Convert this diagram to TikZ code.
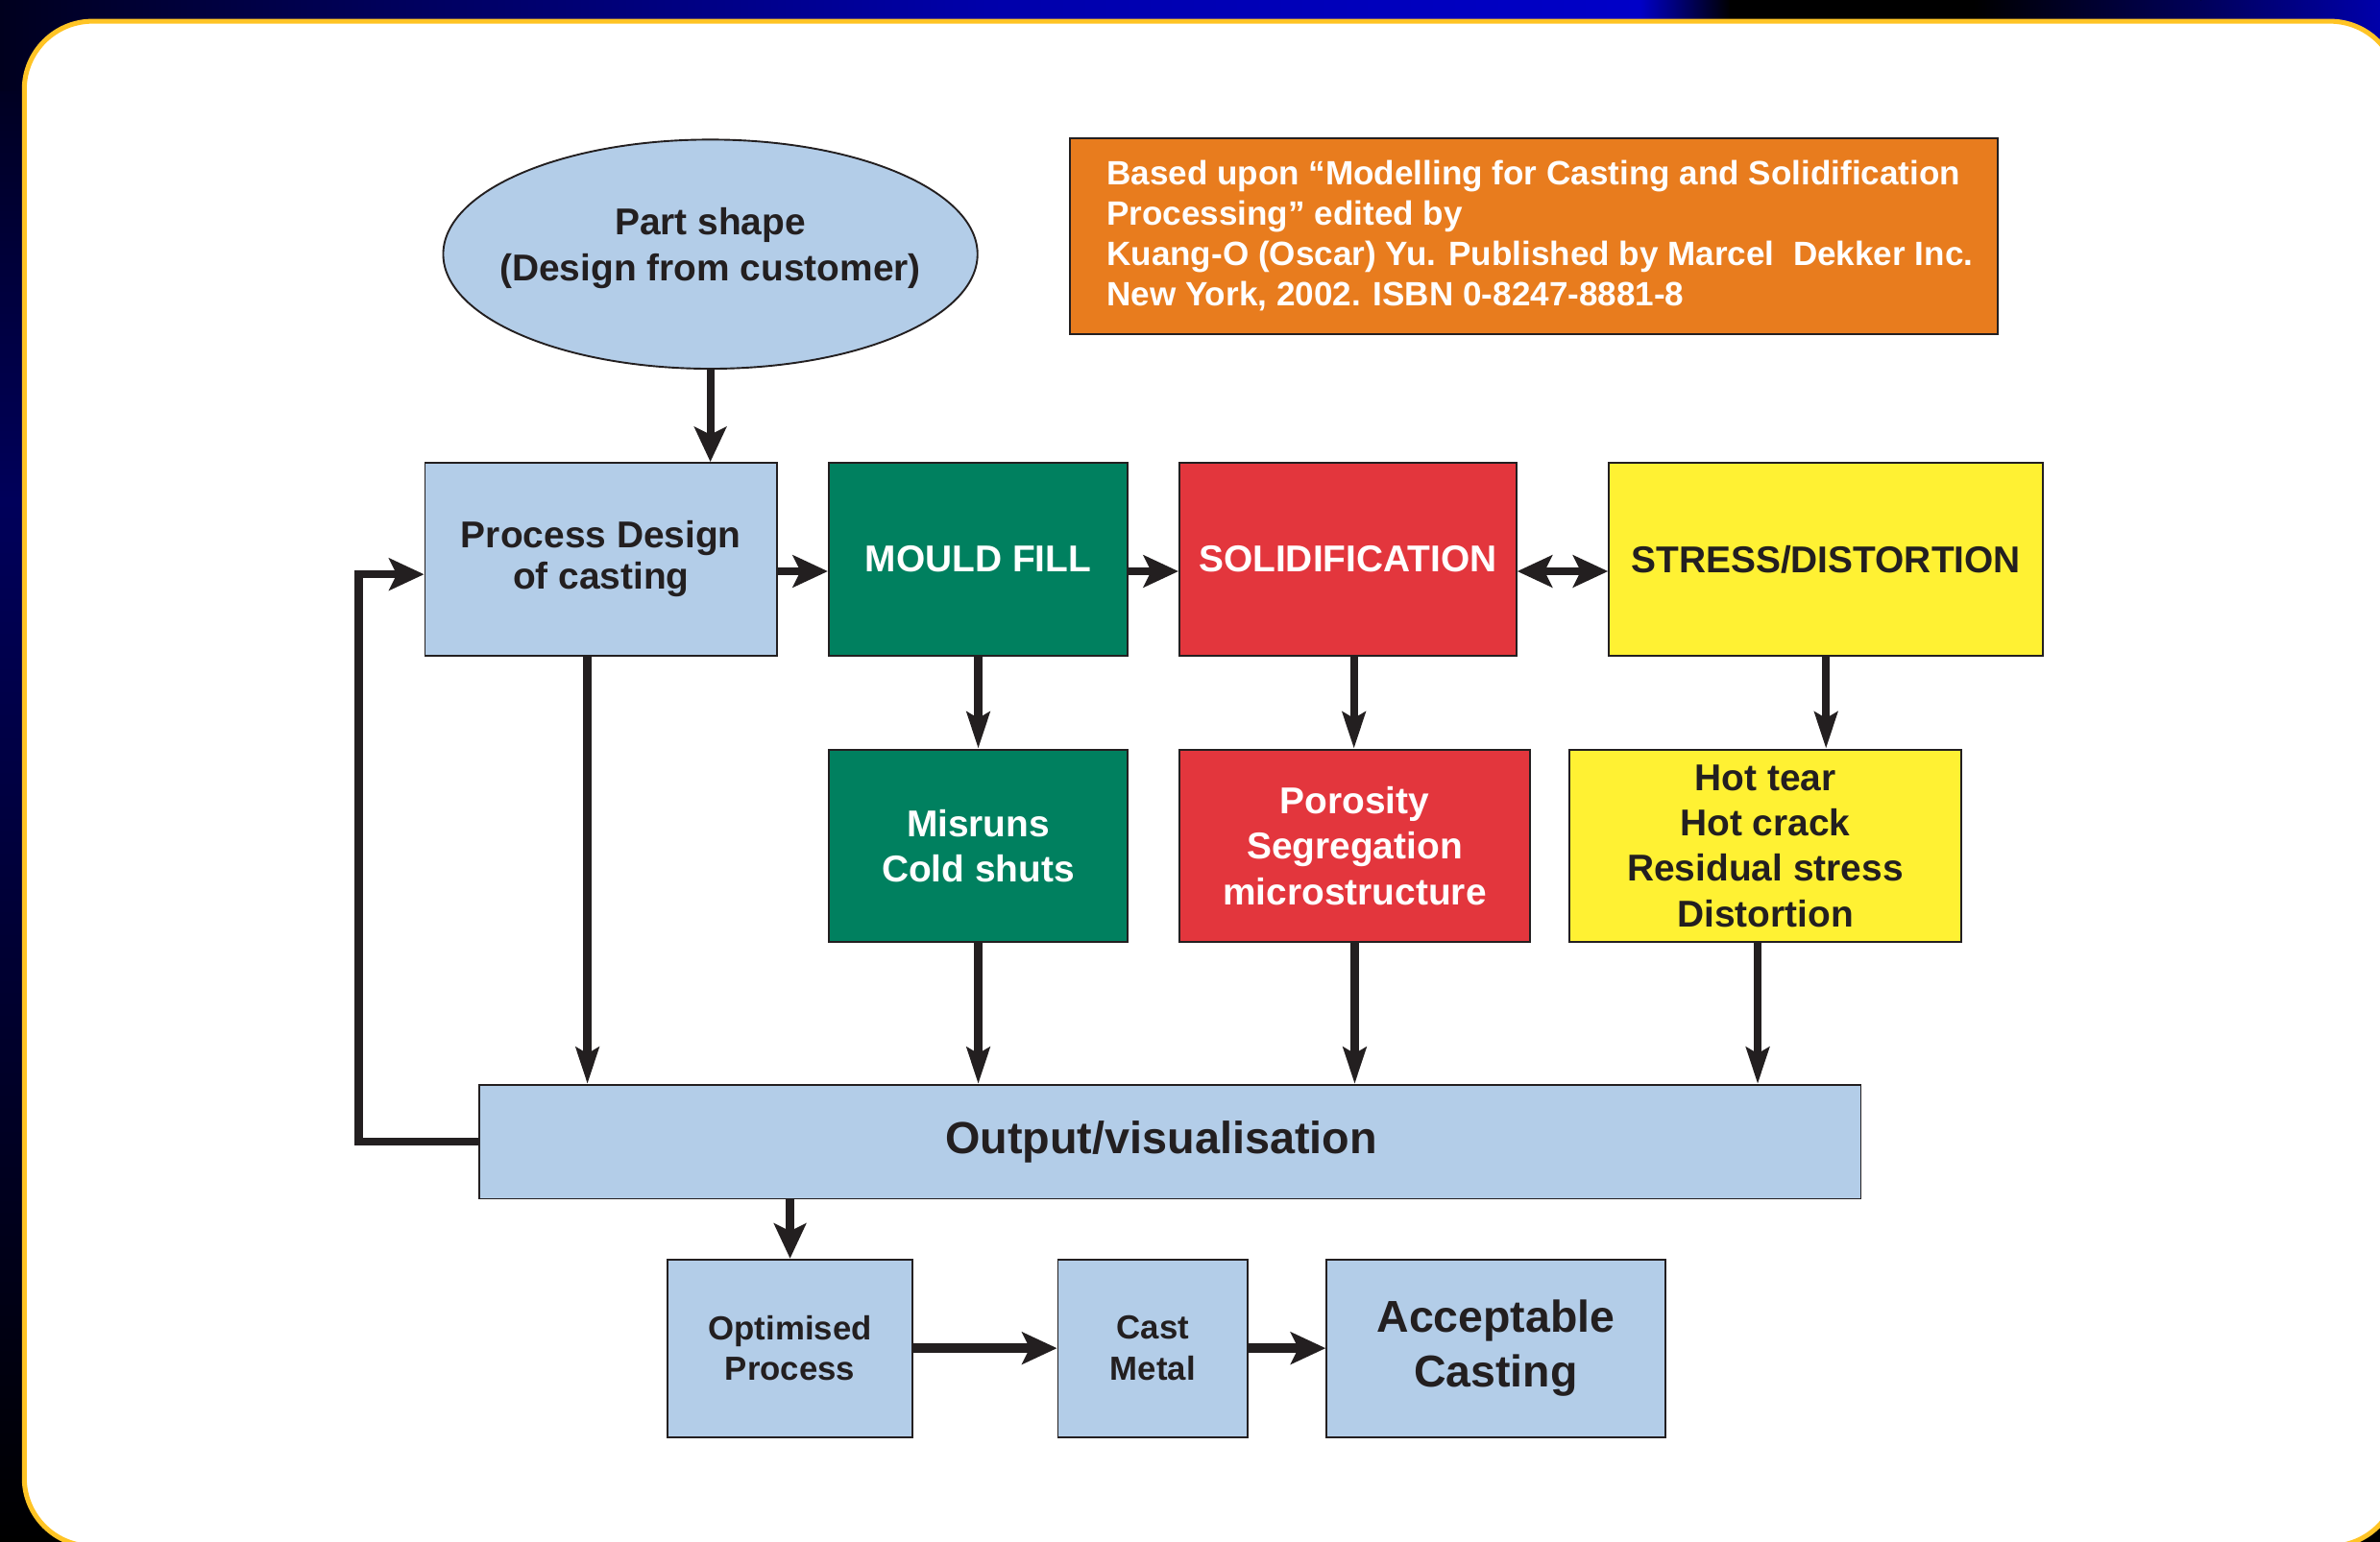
\documentclass[tikz,border=0pt]{standalone}
\usepackage{fontspec}
\setmainfont{Liberation Sans}
\usetikzlibrary{shapes,positioning,arrows.meta}
\definecolor{boxblue}{RGB}{179,205,232}
\definecolor{mouldgreen}{RGB}{0,128,95}
\definecolor{solidred}{RGB}{227,54,61}
\definecolor{stressyellow}{RGB}{255,241,51}
\definecolor{noteorange}{RGB}{232,124,30}
\definecolor{inkcolor}{RGB}{35,31,32}
\definecolor{rimcolor}{RGB}{255,196,37}
\definecolor{bgnavy}{RGB}{0,0,30}
\definecolor{bgdeep}{RGB}{0,0,90}
\definecolor{bgblue}{RGB}{0,0,170}
\definecolor{bgbright}{RGB}{0,0,200}

\begin{document}
\begin{tikzpicture}[
    x=0.5pt, y=-0.5pt,
    block/.style={rectangle, draw=inkcolor, line width=0.6pt, inner sep=0pt,
        align=center, text=inkcolor, minimum height=63.5pt,
        font=\bfseries\fontsize{12.3}{15}\selectfont},
    stage/.style={block, fill=boxblue, minimum height=58.5pt,
        font=\bfseries\fontsize{11}{13.5}\selectfont},
    flow/.style={draw=inkcolor, line width=2.6pt},
    >={Stealth[length=11.5pt,width=10.5pt,inset=2.5pt]},
    dart/.style={flow, -{Stealth[length=12pt,width=7.5pt,inset=2pt]}}
    ]

\useasboundingbox (0,0) rectangle (1568,1016);

% backdrop and panel
\fill[black] (0,0) rectangle (1568,1016);
\shade[top color=bgnavy, bottom color=bgdeep] (0,40) rectangle (30,330);
\shade[top color=bgdeep, bottom color=black] (0,330) rectangle (30,1016);
\foreach \xa/\xb/\ca/\cb in {0/250/bgnavy/bgdeep, 250/650/bgdeep/bgblue,
        650/1080/bgblue/bgbright, 1080/1140/bgbright/black, 1140/1300/black/black,
        1300/1450/black/bgdeep, 1450/1568/bgdeep/bgblue}
    \shade[left color=\ca, right color=\cb] (\xa,0) rectangle (\xb,60);
\draw[rimcolor, line width=1.6pt, fill=white, rounded corners=22.5pt] (16,14) rectangle (1580,1019);

\node[ellipse, draw=inkcolor, line width=0.6pt, fill=boxblue, inner xsep=-7.5pt, inner ysep=0pt,
    minimum width=176pt, minimum height=75.5pt, align=center, text=inkcolor,
    font=\bfseries\fontsize{12.3}{15}\selectfont] (partshape) at (468,167.5)
    {Part shape\\(Design from customer)\rule[-6.6pt]{0pt}{0pt}};

\node[rectangle, draw=inkcolor, line width=0.6pt, fill=noteorange, text=white,
    align=left, inner sep=0pt, minimum width=305.5pt, minimum height=64.5pt,
    font=\bfseries\fontsize{11.1}{13.25}\selectfont] (sourcenote) at (1010.5,155.5)
    {\hspace*{4pt}Based upon “Modelling for Casting and Solidification\\
     \hspace*{4pt}Processing” edited by\\
     \hspace*{4pt}Kuang-O (Oscar) Yu. Published by Marcel~ Dekker Inc.\\
     \hspace*{4pt}New York, 2002. ISBN 0-8247-8881-8};

\node[block, fill=boxblue, minimum width=116pt,
    font=\bfseries\fontsize{12.3}{13.5}\selectfont] (procdesign) at (396,368.5) {Process Design\\of casting};
\node[block, fill=mouldgreen, text=white, minimum width=98.5pt] (mouldfill) [right=16.4pt of procdesign] {MOULD FILL};
\node[block, fill=solidred, text=white, minimum width=111pt] (solidif) [right=16.4pt of mouldfill] {SOLIDIFICATION};
\node[block, fill=stressyellow, minimum width=143pt] (stressdist) [right=29.9pt of solidif] {STRESS/DISTORTION};

\node[block, fill=mouldgreen, text=white, minimum width=98.5pt] (misruns) [below=30.4pt of mouldfill] {Misruns\\Cold shuts};
\node[block, fill=solidred, text=white, minimum width=115.5pt] (porosity) at (892.5,557.5) {Porosity\\Segregation\\microstructure};
\node[block, fill=stressyellow, minimum width=129pt] (hottear) at (1163,557.5) {Hot tear\\Hot crack\\Residual stress\\Distortion};

\node[block, fill=boxblue, minimum width=455pt, minimum height=37.5pt,
    font=\bfseries\fontsize{14.8}{18}\selectfont] (outputvis) at (771,752.5) {Output/visualisation\hspace*{6pt}};

\node[stage, minimum width=80.5pt] (optproc) at (520.5,888.5) {Optimised\\Process};
\node[stage, minimum width=62.5pt] (castmetal) [right=47.4pt of optproc] {Cast\\Metal};
\node[stage, minimum width=111.5pt, font=\bfseries\fontsize{14.7}{18}\selectfont] (acceptcast) [right=25.4pt of castmetal] {Acceptable\\Casting};

\draw[flow,->] (partshape.south) -- (partshape.south |- procdesign.north);
\draw[flow,->] ([yshift=-4pt]procdesign.east) -- ([yshift=-4pt]mouldfill.west);
\draw[flow,->] ([yshift=-4pt]mouldfill.east) -- ([yshift=-4pt]solidif.west);
\draw[flow,<->] ([yshift=-4pt]solidif.east) -- ([yshift=-4pt]stressdist.west);
\draw[dart] (mouldfill.south) -- (misruns.north);
\draw[dart] ([xshift=2pt]solidif.south) -- ([xshift=2pt]solidif.south |- porosity.north);
\draw[dart] (stressdist.south) -- (stressdist.south |- hottear.north);
\draw[dart] ([xshift=-4.5pt]procdesign.south) -- ([xshift=-4.5pt]procdesign.south |- outputvis.north);
\draw[dart] (misruns.south) -- (misruns.south |- outputvis.north);
\draw[dart] (porosity.south) -- (porosity.south |- outputvis.north);
\draw[dart] ([xshift=-2.5pt]hottear.south) -- ([xshift=-2.5pt]hottear.south |- outputvis.north);
\draw[flow,->] (outputvis.west) -- ++(-79,0) |- ([yshift=-5pt]procdesign.west);
\draw[flow,->] (optproc.north |- outputvis.south) -- (optproc.north);
\draw[flow,->,line width=3.2pt] (optproc.east) -- (castmetal.west);
\draw[flow,->,line width=3.2pt] (castmetal.east) -- (acceptcast.west);

\end{tikzpicture}
\end{document}
